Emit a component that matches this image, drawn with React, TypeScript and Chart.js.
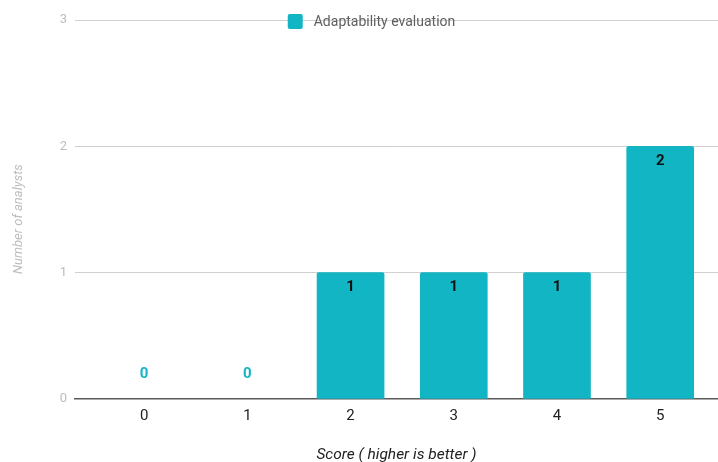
import React, { useEffect, useRef } from "react";
import { Chart, registerables } from "chart.js";

Chart.register(...registerables);

const scores = [0, 1, 2, 3, 4, 5];
const analysts = [0, 0, 1, 1, 1, 2];
const yTicks = [0, 1, 2, 3];
const seriesLabel = "Adaptability evaluation";
const xTitle = "Score ( higher is better )";
const yTitle = "Number of analysts";

const TEAL = "#12b5c4";
const FONT = "Roboto, 'Noto Sans', sans-serif";

const valueLabels = {
  id: "valueLabels",
  afterDatasetsDraw(chart: any) {
    const ctx = chart.ctx;
    const meta = chart.getDatasetMeta(0);
    ctx.save();
    ctx.font = `bold 15px ${FONT}`;
    ctx.textAlign = "center";
    ctx.textBaseline = "middle";
    meta.data.forEach((bar: any, i: number) => {
      const v = analysts[i];
      if (v > 0) {
        ctx.fillStyle = "#111111";
        ctx.fillText(String(v), bar.x, bar.y + 15);
      } else {
        ctx.fillStyle = TEAL;
        ctx.fillText(String(v), bar.x, bar.y - 25);
      }
    });
    ctx.restore();
  },
};

const topLegend = {
  id: "topLegend",
  afterDraw(chart: any) {
    const ctx = chart.ctx;
    const ds = chart.data.datasets[0];
    const area = chart.chartArea;
    ctx.save();
    ctx.font = `14px ${FONT}`;
    const tw = ctx.measureText(ds.label).width;
    const box = 15;
    const gap = 11;
    const total = box + gap + tw;
    const cx = (area.left + area.right) / 2 - 25;
    const x0 = cx - total / 2;
    const cy = area.top + 1.5;
    ctx.fillStyle = TEAL;
    ctx.beginPath();
    (ctx as any).roundRect
      ? (ctx as any).roundRect(x0, cy - box / 2, box, box, 2)
      : ctx.rect(x0, cy - box / 2, box, box);
    ctx.fill();
    ctx.fillStyle = "#5f5f5f";
    ctx.textAlign = "left";
    ctx.textBaseline = "middle";
    ctx.fillText(ds.label, x0 + box + gap, cy + 1);
    ctx.restore();
  },
};

export default function App() {
  const canvasRef = useRef<HTMLCanvasElement | null>(null);

  useEffect(() => {
    document.body.style.margin = "0";
    const canvas = canvasRef.current;
    if (!canvas) return;
    const chart = new Chart(canvas, {
      type: "bar",
      data: {
        datasets: [
          {
            label: seriesLabel,
            data: scores.map((s, i) => ({ x: s, y: analysts[i] })) as any,
            backgroundColor: (c: any) =>
              c.raw && c.raw.y === 0 ? "rgba(0,0,0,0)" : TEAL,
            borderRadius: 2,
            borderSkipped: "bottom",
            barThickness: 67,
          },
        ],
      },
      options: {
        animation: false,
        responsive: false,
        maintainAspectRatio: false,
        layout: { padding: { top: 20, left: 0, right: 0, bottom: 0 } },
        plugins: {
          legend: { display: false },
          tooltip: { enabled: false },
        },
        scales: {
          x: {
            type: "linear",
            offset: false,
            min: -0.67,
            max: 5.56,
            afterBuildTicks: (scale: any) => {
              scale.ticks = scores.map((v) => ({ value: v }));
            },
            afterFit: (scale: any) => {
              scale.height = 63;
            },
            grid: { display: false, drawTicks: false, offset: false },
            border: { display: true, color: "#5a5a5a", width: 1.6 },
            ticks: {
              padding: 8,
              color: "#222222",
              font: { family: FONT, size: 15 },
              callback: (v: any) => String(v),
            },
            title: {
              display: true,
              text: xTitle,
              color: "#222222",
              font: { family: FONT, size: 15.5, style: "italic", lineHeight: 0.85 },
              padding: { top: 0, bottom: 0 },
            },
          },
          y: {
            min: 0,
            max: 3,
            afterBuildTicks: (scale: any) => {
              scale.ticks = yTicks.map((v) => ({ value: v }));
            },
            afterFit: (scale: any) => {
              scale.width = 75;
            },
            grid: {
              color: (c: any) => (c.tick && c.tick.value === 0 ? "rgba(0,0,0,0)" : "#d0d0d0"),
              lineWidth: 1,
              drawTicks: false,
            },
            border: { display: false },
            ticks: {
              padding: 8,
              color: "#bdbdbd",
              font: { family: FONT, size: 13 },
            },
            title: {
              display: true,
              text: yTitle + "      ",
              color: "#bdbdbd",
              font: { family: FONT, size: 13, style: "italic", lineHeight: 1.2 },
              padding: { top: 11, bottom: 0 },
            },
          },
        },
      },
      plugins: [valueLabels, topLegend],
    });
    return () => chart.destroy();
  }, []);

  return (
    <div style={{ position: "absolute", left: 0, top: 0, width: 718, height: 462 }}>
      <canvas ref={canvasRef} width={718} height={462} style={{ width: 718, height: 462 }} />
    </div>
  );
}
